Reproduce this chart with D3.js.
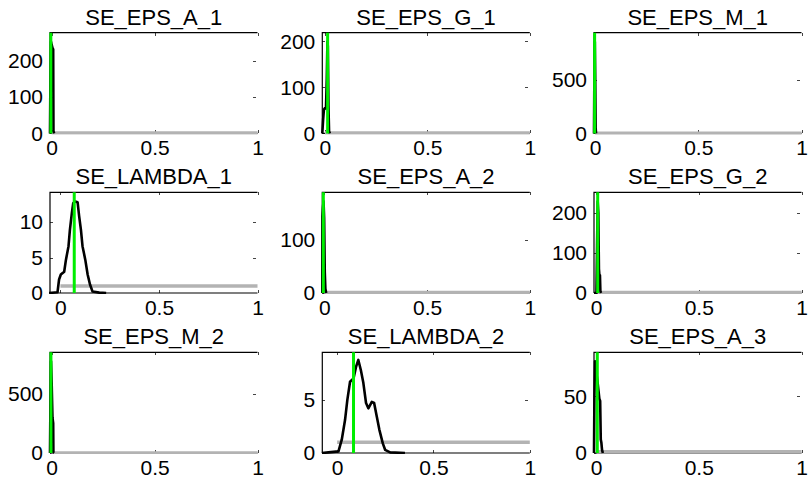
<!DOCTYPE html>
<html>
<head>
<meta charset="utf-8">
<script src="https://cdn.jsdelivr.net/npm/d3@7"></script>
<style>
  html, body { margin: 0; padding: 0; background: #fff; }
  svg { display: block; font-family: "Liberation Sans", Arial, sans-serif; }
</style>
</head>
<body>
<div id="chart"></div>
<script>
// panel titles, row by row
const titles = ['SE_EPS_A_1', 'SE_EPS_G_1', 'SE_EPS_M_1',
                'SE_LAMBDA_1', 'SE_EPS_A_2', 'SE_EPS_G_2',
                'SE_EPS_M_2', 'SE_LAMBDA_2', 'SE_EPS_A_3'];

// axis limits of each panel
const xMin = [-0.008, -0.013, -0.005, -0.053, -0.010, -0.010, -0.008, -0.077, -0.010];
const xMax = [1, 1, 1, 1, 1, 1, 1, 1, 1];
const yMax = [278, 219, 943, 14.2, 189, 252, 851, 9.47, 89];

// tick labels
const xTicks = [0, 0.5, 1];
const yTicks = [[0, 100, 200], [0, 100, 200], [0, 500],
                [0, 5, 10], [0, 100], [0, 100, 200],
                [0, 500], [0, 5], [0, 50]];

// posterior mode (green line)
const modes = [-0.004, 0.013, -0.002, 0.070, -0.005, 0.008, -0.0035, 0.085, 0.006];

// prior density (uniform on [0, 1])
const priorX = [0, 1];
const priorY = [1, 1];

// posterior densities
const postA1X = [-0.008, -0.006, -0.003, 0.000, 0.004, 0.0075, 0.0088, 0.012];
const postA1Y = [0, 150, 253, 245, 236, 232, 6, 0];
const postG1X = [-0.013, -0.009, -0.005, 0.000, 0.005, 0.009, 0.012, 0.014, 0.017, 0.020, 0.024];
const postG1Y = [0, 30, 52, 55, 54, 120, 199, 190, 60, 5, 0];
const postM1X = [-0.005, -0.003, -0.001, 0.001, 0.003, 0.005];
const postM1Y = [0, 600, 857, 500, 50, 0];
const postL1X = [-0.058, -0.015, -0.007, 0.002, 0.019, 0.028, 0.041, 0.048, 0.058, 0.065, 0.075,
                 0.087, 0.095, 0.104, 0.112, 0.126, 0.138, 0.150, 0.163, 0.197, 0.232];
const postL1Y = [0, 0.1, 1.9, 2.6, 3.0, 4.7, 6.6, 8.9, 11.3, 12.7, 12.9,
                 12.8, 10.8, 8.9, 6.6, 4.7, 2.6, 1.2, 0.2, 0.05, 0];
const postA2X = [-0.010, -0.0095, -0.007, -0.004, -0.001, 0.002, 0.005, 0.009];
const postA2Y = [0, 144, 160, 172, 140, 40, 8, 0];
const postG2X = [-0.010, 0.002, 0.005, 0.008, 0.011, 0.014, 0.016, 0.019, 0.021, 0.024];
const postG2Y = [0, 0, 120, 229, 200, 60, 46, 44, 5, 0];
const postM2X = [-0.008, -0.006, -0.003, 0.000, 0.004, 0.0075, 0.0085, 0.012];
const postM2Y = [0, 400, 774, 600, 300, 253, 5, 0];
const postL2X = [-0.079, -0.045, 0.007, 0.024, 0.041, 0.053, 0.067, 0.085, 0.098, 0.110, 0.123,
                 0.136, 0.150, 0.162, 0.180, 0.192, 0.206, 0.219, 0.237, 0.249, 0.275, 0.352];
const postL2Y = [0, 0.06, 0.15, 1.25, 3.1, 5.0, 6.7, 7.0, 8.1, 8.75, 7.8,
                 6.6, 4.7, 4.2, 4.8, 4.7, 3.4, 2.2, 0.9, 0.3, 0.06, 0];
const postA3X = [-0.010, -0.008, -0.005, -0.002, 0.002, 0.006, 0.012, 0.016, 0.020, 0.023, 0.026, 0.029, 0.033];
const postA3Y = [0, 50, 81, 78, 70, 65, 55, 48, 46, 12, 9, 3, 0];

const postX = [postA1X, postG1X, postM1X, postL1X, postA2X, postG2X, postM2X, postL2X, postA3X];
const postY = [postA1Y, postG1Y, postM1Y, postL1Y, postA2Y, postG2Y, postM2Y, postL2Y, postA3Y];

// layout
const width = 809, height = 487;
const colLeft = [50, 322.3, 594];
const rowTop = [32.7, 192.3, 352.3];
const plotW = 207.5, plotH = 100.7;

const svg = d3.select('#chart')
  .append('svg')
  .attr('width', width)
  .attr('height', height);

titles.forEach((title, i) => {
  const col = i % 3;
  const row = Math.floor(i / 3);

  const g = svg.append('g')
    .attr('transform', `translate(${colLeft[col]}, ${rowTop[row]})`);

  const x = d3.scaleLinear().domain([xMin[i], xMax[i]]).range([0, plotW]);
  const y = d3.scaleLinear().domain([0, yMax[i]]).range([plotH, 0]);

  // clip like the axes box (line width may spill a little)
  g.append('clipPath')
    .attr('id', `clip${i}`)
    .append('rect')
    .attr('x', -2)
    .attr('y', -1)
    .attr('width', plotW + 4)
    .attr('height', plotH + 2);

  // axes
  const fmt = d3.format('~g');
  const xAxis = g.append('g')
    .attr('class', 'x-axis')
    .attr('transform', `translate(0, ${plotH})`)
    .call(d3.axisBottom(x).tickValues(xTicks).tickSize(-3).tickPadding(7).tickFormat(fmt));

  const yAxis = g.append('g')
    .attr('class', 'y-axis')
    .call(d3.axisLeft(y).tickValues(yTicks[i]).tickSize(-3).tickPadding(7).tickFormat(fmt));

  // top and right inward ticks (no right border line)
  g.append('g')
    .call(d3.axisTop(x).tickValues(xTicks).tickSize(-3).tickFormat(''));
  g.append('g')
    .attr('transform', `translate(${plotW - 1.5}, 0)`)
    .call(d3.axisRight(y).tickValues(yTicks[i].filter(v => v > 0)).tickSize(-3).tickFormat(''));

  g.selectAll('.domain').remove();
  g.selectAll('.tick line').attr('stroke', '#444').attr('shape-rendering', 'crispEdges');
  [xAxis, yAxis].forEach(a => a.selectAll('text')
    .attr('font-size', '21px')
    .attr('fill', '#000')
    .attr('font-family', '"Liberation Sans", Arial, sans-serif'));

  // box: top, left, bottom
  g.append('path')
    .attr('d', `M0,${plotH}V0H${plotW}M0,${plotH}H${plotW}`)
    .attr('fill', 'none')
    .attr('stroke', '#000')
    .attr('stroke-width', 1.2);

  const line = d3.line()
    .x(d => x(d[0]))
    .y(d => y(d[1]));

  const plot = g.append('g').attr('clip-path', `url(#clip${i})`);

  // prior
  plot.append('path')
    .datum(priorX.map((v, k) => [v, priorY[k]]))
    .attr('d', line)
    .attr('fill', 'none')
    .attr('stroke', '#b3b3b3')
    .attr('stroke-width', 3.5);

  // posterior
  plot.append('path')
    .datum(postX[i].map((v, k) => [v, postY[i][k]]))
    .attr('d', line)
    .attr('fill', 'none')
    .attr('stroke', '#000')
    .attr('stroke-width', 2.6)
    .attr('stroke-linejoin', 'round');

  // mode
  plot.append('path')
    .datum([[modes[i], 0], [modes[i], yMax[i]]])
    .attr('d', line)
    .attr('fill', 'none')
    .attr('stroke', '#00ee00')
    .attr('stroke-width', 3);

  // title
  g.append('text')
    .attr('x', plotW / 2)
    .attr('y', -8)
    .attr('text-anchor', 'middle')
    .attr('font-size', '22px')
    .attr('fill', '#000')
    .text(title);
});
</script>
</body>
</html>
